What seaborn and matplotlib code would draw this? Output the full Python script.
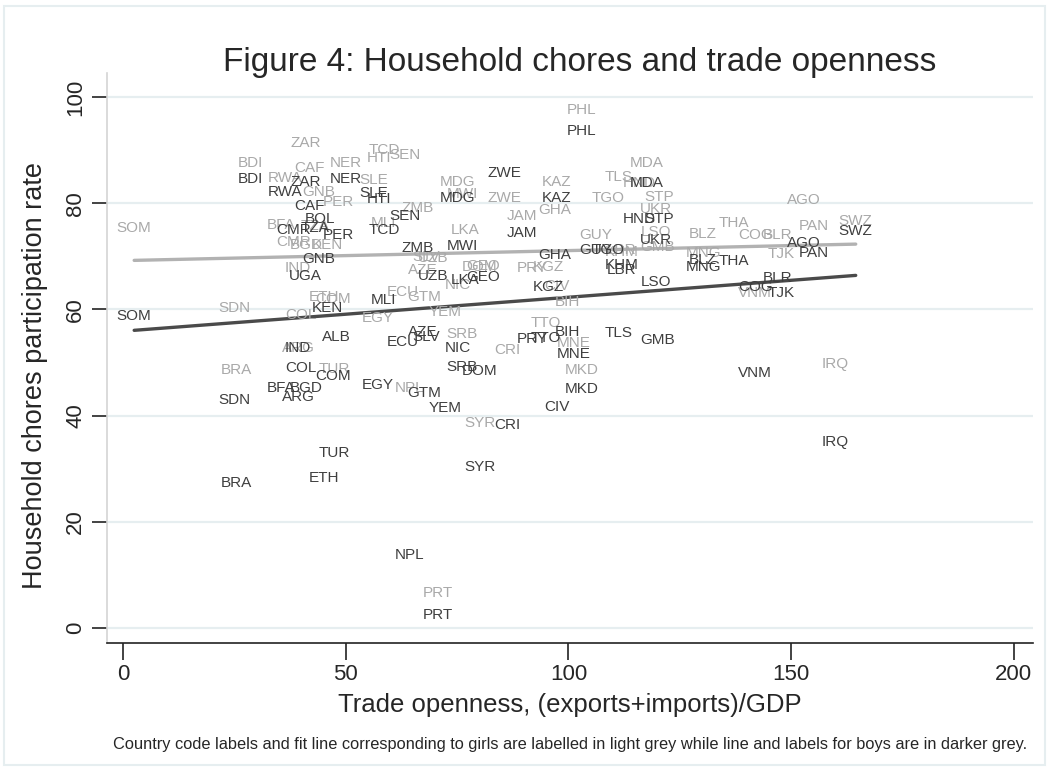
import numpy as np
import pandas as pd
import matplotlib
matplotlib.use("Agg")
import matplotlib.pyplot as plt
import seaborn as sns

# Country codes, trade openness and household-chore participation rates
countries = ["SOM", "SDN", "BRA", "BDI", "RWA", "ZAR", "NER", "CAF", "BOL", "CMR",
             "TZA", "PER", "GNB", "UGA", "SLE", "HTI", "SEN", "TCD", "ZMB", "MWI",
             "MDG", "ZWE", "JAM", "UZB", "LKA", "GEO", "KGZ", "GHA", "MLI", "KEN",
             "ALB", "IND", "COL", "COM", "BFA", "BGD", "ARG", "TUR", "ETH", "EGY",
             "ECU", "AZE", "SLV", "NIC", "SRB", "DOM", "GTM", "YEM", "CRI", "SYR",
             "NPL", "PRT", "PRY", "TTO", "BIH", "MNE", "MKD", "CIV", "TLS", "GMB",
             "LSO", "KHM", "LBR", "GUY", "TGO", "UKR", "HND", "STP", "MDA", "KAZ",
             "PHL", "BLZ", "MNG", "THA", "COG", "BLR", "TJK", "AGO", "PAN", "SWZ",
             "VNM", "IRQ"]

trade = [2.5, 24.9, 25.4, 28.5, 36.4, 41.1, 50.1, 41.8, 44.2, 38.2,
         43.1, 48.3, 44.0, 40.9, 56.3, 57.5, 63.3, 58.6, 66.2, 76.3,
         75.0, 85.7, 89.6, 69.6, 76.8, 80.8, 95.4, 97.0, 58.4, 45.8,
         48.0, 39.3, 40.0, 47.1, 35.5, 41.1, 39.3, 47.4, 45.1, 57.2,
         62.9, 67.3, 68.0, 75.2, 76.1, 80.1, 67.6, 72.3, 86.2, 80.1,
         64.4, 70.7, 91.8, 94.9, 99.7, 101.2, 103.0, 97.4, 111.3, 119.9,
         119.6, 112.0, 112.0, 106.2, 108.9, 119.6, 116.0, 120.3, 117.6, 97.4,
         103.0, 130.2, 130.4, 137.1, 141.9, 147.0, 147.7, 152.9, 155.1, 164.5,
         141.9, 159.8]

girls = [75.3, 60.3, 48.6, 87.6, 84.7, 91.3, 87.6, 86.6, np.nan, 72.7,
         75.7, 80.2, 82.1, np.nan, 84.4, 88.5, 89.1, 90.0, 79.1, 81.7,
         84.0, 81.0, 77.6, 69.7, 75.0, 68.2, 68.0, 78.7, 76.3, 72.1,
         np.nan, 67.8, 58.9, 62.0, 75.9, 72.1, 52.7, 48.8, 62.3, 58.4,
         63.3, 67.4, 69.9, 64.6, 55.4, 68.0, 62.3, 59.5, 52.4, 38.6,
         45.2, 6.6, 67.8, 57.4, 61.4, 53.7, 48.6, 64.4, 84.9, 71.8,
         74.6, 70.8, 71.2, 74.0, 81.0, 78.9, 83.8, 81.2, 87.6, 84.0,
         97.6, 74.2, 70.6, 76.3, 74.0, 74.0, 70.4, 80.6, 75.7, 76.6,
         63.1, 49.7]

boys = [58.8, 42.9, 27.3, 84.6, 82.1, 84.0, 84.6, 79.5, 77.0, 75.0,
        75.3, 74.0, 69.5, 66.3, 81.9, 80.8, 77.6, 75.0, 71.6, 71.9,
        81.0, 85.7, 74.4, 66.3, 65.5, 66.1, 64.2, 70.2, 61.8, 60.3,
        54.8, 52.7, 49.0, 47.5, 45.2, 45.2, 43.5, 33.0, 28.2, 45.8,
        53.9, 55.7, 54.8, 52.7, 49.2, 48.4, 44.3, 41.4, 38.2, 30.3,
        13.7, 2.4, 54.4, 54.6, 55.7, 51.6, 45.0, 41.6, 55.6, 54.2,
        65.2, 68.4, 67.4, 71.2, 71.2, 73.1, 77.0, 77.0, 83.8, 81.0,
        93.6, 69.3, 68.0, 69.1, 64.2, 65.9, 63.1, 72.5, 70.6, 74.8,
        48.0, 35.0]

x_ticks = [0, 50, 100, 150, 200]
y_ticks = [0, 20, 40, 60, 80, 100]

title = "Figure 4: Household chores and trade openness"
x_title = "Trade openness, (exports+imports)/GDP"
y_title = "Household chores participation rate"
note = ("Country code labels and fit line corresponding to girls are labelled in light grey "
        "while line and labels for boys are in darker grey.")

df = pd.DataFrame({"country": countries, "trade": trade, "girls": girls, "boys": boys})

LIGHT = "#a9a9a9"
DARK = "#3f3f3f"
GRID = "#e6eef0"

sns.set_style("white")
plt.rcParams["font.family"] = ["Liberation Sans", "DejaVu Sans"]

fig = plt.figure(figsize=(10.48, 7.69), dpi=100)
fig.patch.set_facecolor("white")

# thin outer frame around the whole graph region
fig.patches.append(plt.Rectangle((4 / 1048, 4 / 769), 1041 / 1048, 759 / 769,
                                 transform=fig.transFigure, fill=False,
                                 edgecolor=GRID, linewidth=1.5))

ax = fig.add_axes([107 / 1048, 1 - 643 / 769, 926 / 1048, 570 / 769])
ax.set_xlim(-3.6, 204.3)
ax.set_ylim(-2.8, 104.5)

for yv in y_ticks:
    ax.axhline(yv, color=GRID, linewidth=1.6, zorder=0)

# linear fits for each group
sns.regplot(data=df, x="trade", y="girls", scatter=False, ci=None, ax=ax,
            line_kws=dict(color="#b2b2b2", linewidth=2.4, zorder=1))
sns.regplot(data=df, x="trade", y="boys", scatter=False, ci=None, ax=ax,
            line_kws=dict(color="#4a4a4a", linewidth=2.4, zorder=1))

# country code labels: girls (light) first, boys (dark) on top
for _, r in df.iterrows():
    if not np.isnan(r["girls"]):
        ax.text(r["trade"], r["girls"], r["country"], ha="center", va="center",
                fontsize=11, color=LIGHT, zorder=2)
for _, r in df.iterrows():
    if not np.isnan(r["boys"]):
        ax.text(r["trade"], r["boys"], r["country"], ha="center", va="center",
                fontsize=11, color=DARK, zorder=3)

ax.set_xticks(x_ticks)
ax.set_yticks(y_ticks)
ax.set_xticklabels([str(t) for t in x_ticks], fontsize=16)
ax.set_yticklabels([str(t) for t in y_ticks], fontsize=16, rotation=90, va="center")
ax.tick_params(axis="x", bottom=True, length=12, width=1.2, color="#222222", pad=3)
ax.tick_params(axis="y", left=True, length=11, width=1.2, color="#222222", pad=4)

for side in ["top", "right"]:
    ax.spines[side].set_visible(False)
ax.spines["left"].set_color("#d4d4d4")
ax.spines["left"].set_linewidth(1.2)
ax.spines["bottom"].set_color("#222222")
ax.spines["bottom"].set_linewidth(1.2)

ax.set_xlabel(x_title, fontsize=18.5)
ax.set_ylabel(y_title, fontsize=19.5)
ax.xaxis.set_label_coords(0.5, -0.088)
ax.yaxis.set_label_coords(-0.064, 0.47)

fig.text(580 / 1048, 1 - 62 / 769, title, ha="center", va="center", fontsize=24)
fig.text(570 / 1048, 1 - 744 / 769, note, ha="center", va="center", fontsize=11.8)

fig.savefig("out.png", dpi=100, facecolor="white")
